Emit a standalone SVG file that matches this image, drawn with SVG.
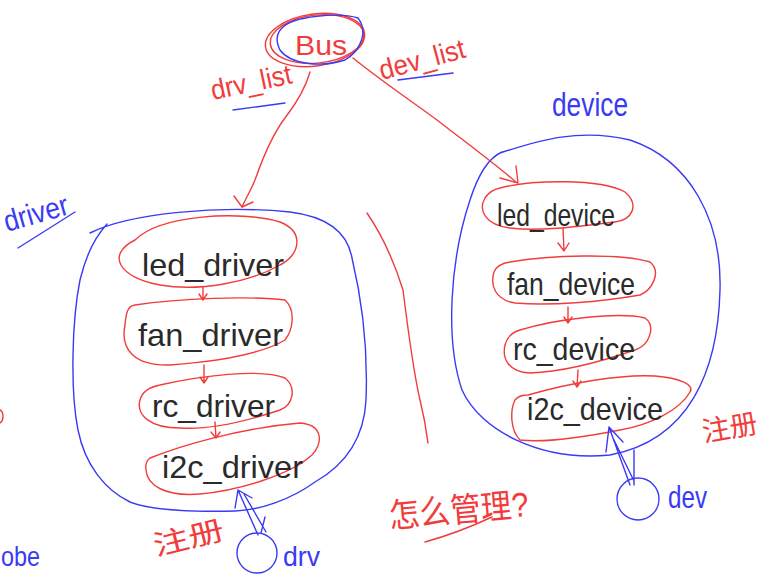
<svg xmlns="http://www.w3.org/2000/svg" width="770" height="575" viewBox="0 0 770 575">
<style>
.r{fill:none;stroke:#f23c3c;stroke-width:1.4;stroke-linecap:round;stroke-linejoin:round}
.b{fill:none;stroke:#3a3af5;stroke-width:1.4;stroke-linecap:round;stroke-linejoin:round}
.nt{font-family:"Liberation Sans",Arial,sans-serif;fill:#2a2a2a;font-size:32px}
.rt{font-family:"Liberation Sans","Noto Sans CJK SC",sans-serif;fill:#f23c3c}
.bt{font-family:"Liberation Sans",Arial,sans-serif;fill:#3a3af5}
</style>
<rect width="770" height="575" fill="#fff"/>

<g id="bus">
<ellipse cx="315" cy="40" rx="50" ry="26" transform="rotate(-8 315 40)" class="r"/>
<ellipse cx="317" cy="39" rx="47" ry="24" transform="rotate(-6 317 39)" class="r"/>
<path d="M282,28 C292,16 340,12 358,18 C368,30 362,50 345,60 C320,68 290,64 280,50 C275,40 277,33 282,28" class="b"/>
<text x="295" y="55" class="rt" font-size="28" textLength="52" lengthAdjust="spacingAndGlyphs">Bus</text>
</g>

<g id="labels">
<text x="213" y="100" class="rt" font-size="28" textLength="82" lengthAdjust="spacingAndGlyphs" transform="rotate(-12 213 100)">drv_list</text>
<path d="M233,110 L285,103" class="b"/>
<text x="382" y="80" class="rt" font-size="28" textLength="88" lengthAdjust="spacingAndGlyphs" transform="rotate(-15 382 80)">dev_list</text>
<path d="M398,80 L453,73" class="b"/>
<text x="552" y="116" class="bt" font-size="34" textLength="76" lengthAdjust="spacingAndGlyphs">device</text>
<text x="7" y="232" class="bt" font-size="30" textLength="66" lengthAdjust="spacingAndGlyphs" transform="rotate(-16 7 232)">driver</text>
<path d="M18,248 L75,212" class="b"/>
<text x="1" y="566" class="bt" font-size="28" textLength="39" lengthAdjust="spacingAndGlyphs">obe</text>
<path d="M0,410 C4,412 4,420 0,423" class="r"/>
<text x="390" y="528" class="rt" font-size="34" textLength="140" lengthAdjust="spacingAndGlyphs" transform="rotate(-5 390 528)">怎么管理?</text>
<path d="M425,542 C450,535 475,525 492,517" class="r"/>
<text x="156" y="556" class="rt" font-size="28" textLength="72" lengthAdjust="spacingAndGlyphs" transform="rotate(-14 156 556)">注册</text>
<text x="704" y="442" class="rt" font-size="28" textLength="56" lengthAdjust="spacingAndGlyphs" transform="rotate(-10 704 442)">注册</text>
<path d="M367,213 C380,232 393,258 403,290 C408,330 413,370 420,400 C425,420 427,435 428,443" class="r"/>
</g>

<g id="driver-container">
<path d="M90,233 C130,213 220,205 290,212 C330,217 348,235 352,258 C362,300 368,350 366,400 C364,440 345,465 315,482 C290,500 260,510 235,511 C190,512 150,510 130,502 C105,490 85,465 78,430 C70,390 72,320 80,280 C86,255 95,237 107,224" class="b"/>
</g>

<g id="device-container">
<path d="M500,153 C540,140 580,128 630,140 C690,160 722,220 720,290 C718,370 690,440 610,455 C540,462 480,430 462,390 C445,340 450,260 470,200 C478,175 488,158 502,152" class="b"/>
</g>

<g id="led_driver">
<path d="M135,240 C160,215 240,210 280,222 C305,232 300,255 280,265 C250,282 200,292 160,285 C120,278 105,255 135,240 Z" class="r"/>
<text x="142" y="276" class="nt" textLength="142" lengthAdjust="spacingAndGlyphs">led_driver</text>
</g>
<g id="fan_driver">
<path d="M135,305 C180,298 250,296 285,300 C296,310 293,330 285,340 C260,355 210,362 170,365 C135,366 120,350 125,325 C126,312 128,306 135,305 Z" class="r"/>
<text x="138" y="346" class="nt" textLength="145" lengthAdjust="spacingAndGlyphs">fan_driver</text>
</g>
<g id="rc_driver">
<path d="M160,385 C200,376 260,368 285,378 C297,388 293,405 280,410 C250,420 210,430 180,428 C150,428 136,415 140,400 C142,392 150,387 160,385 Z" class="r"/>
<text x="152" y="417" class="nt" textLength="123" lengthAdjust="spacingAndGlyphs">rc_driver</text>
</g>
<g id="i2c_driver">
<path d="M150,458 C180,446 240,428 300,423 C325,425 322,445 312,455 C290,475 240,490 200,494 C165,497 147,485 146,470 C145,463 147,460 150,458 Z" class="r"/>
<text x="162" y="478" class="nt" textLength="141" lengthAdjust="spacingAndGlyphs">i2c_driver</text>
</g>

<g id="led_device">
<path d="M500,188 C530,180 600,178 625,192 C640,205 632,220 615,222 C580,226 540,232 510,228 C485,225 478,210 485,198 C489,192 495,189 500,188 Z" class="r"/>
<text x="497" y="226" class="nt" font-size="30" textLength="118" lengthAdjust="spacingAndGlyphs">led_device</text>
</g>
<g id="fan_device">
<path d="M510,262 C550,255 620,253 650,262 C662,272 652,290 640,295 C600,302 550,306 515,303 C495,300 490,285 494,272 C497,265 503,263 510,262 Z" class="r"/>
<text x="507" y="295" class="nt" font-size="32" textLength="128" lengthAdjust="spacingAndGlyphs">fan_device</text>
</g>
<g id="rc_device">
<path d="M520,330 C560,318 620,312 645,318 C656,326 650,345 635,350 C600,362 560,372 530,373 C508,372 502,358 505,345 C507,337 513,332 520,330 Z" class="r"/>
<text x="513" y="360" class="nt" font-size="30" textLength="122" lengthAdjust="spacingAndGlyphs">rc_device</text>
</g>
<g id="i2c_device">
<path d="M528,395 C570,383 620,374 655,376 C680,378 695,385 690,392 C680,410 650,425 620,430 C580,438 545,443 520,440 C510,430 510,410 515,400 C518,396 523,395 528,395 Z" class="r"/>
<text x="527" y="420" class="nt" font-size="30" textLength="136" lengthAdjust="spacingAndGlyphs">i2c_device</text>
</g>

<g id="drv">
<circle cx="257" cy="553" r="20" class="b"/>
<text x="283" y="566" class="bt" font-size="28" textLength="37" lengthAdjust="spacingAndGlyphs">drv</text>
</g>
<g id="dev">
<circle cx="638" cy="499" r="21" class="b"/>
<text x="668" y="508" class="bt" font-size="32" textLength="39" lengthAdjust="spacingAndGlyphs">dev</text>
</g>

<g id="connectors">
<path d="M310,72 C305,90 295,105 285,118 C272,135 262,160 255,180 C250,192 245,200 242,207" class="r"/>
<path d="M234,196 L242,207 L253,202" class="r"/>
<path d="M353,58 C380,80 410,100 437,120 C460,138 490,160 516,182" class="r"/>
<path d="M516,166 L518,183 L500,178" class="r"/>
<path d="M203,287 L203,300 M199,294 L203,300 L207,294" class="r"/>
<path d="M204,365 L204,383 M200,377 L204,383 L208,377" class="r"/>
<path d="M215,422 L216,438 M211,432 L216,438 L220,432" class="r"/>
<path d="M563,228 L564,251 M558,243 L564,251 L569,243" class="r"/>
<path d="M568,307 L568,323 M564,317 L568,323 L572,317" class="r"/>
<path d="M578,370 L577,387 M573,381 L577,387 L581,381" class="r"/>
<path d="M238,490 L258,535 M244,494 L266,532 M238,490 L235,508 M238,490 L252,498 M265,517 L261,533" class="b"/>
<path d="M609,427 L630,485 M613,438 L634,481 M634,450 L634,485 M609,427 L606,452 M609,427 L623,442" class="b"/>
</g>
</svg>
